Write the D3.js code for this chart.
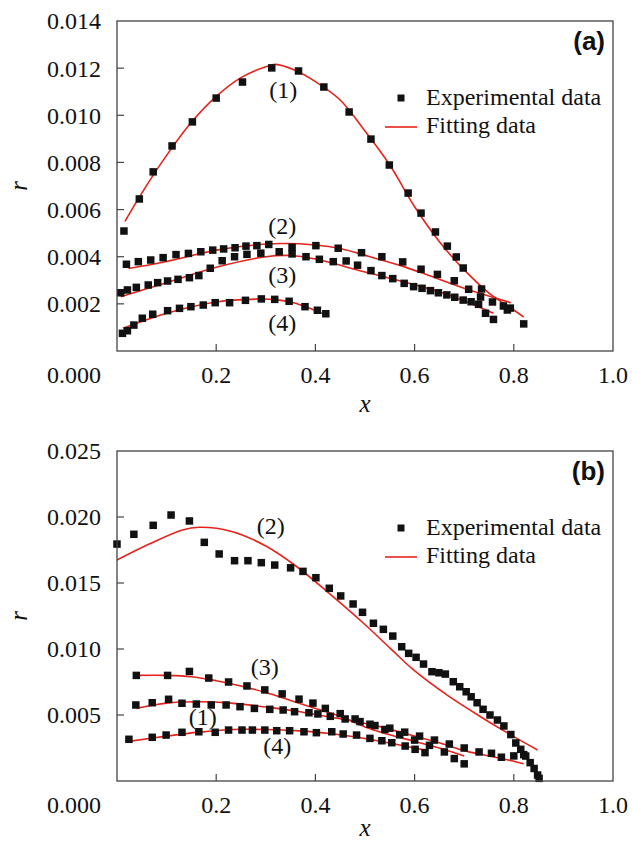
<!DOCTYPE html>
<html>
<head>
<meta charset="utf-8">
<script src="https://cdn.jsdelivr.net/npm/d3@7"></script>
<style>
  body { margin: 0; background: #fff; }
  svg { display: block; }
  .tick-label, .curve-label, .legend-text { font-family: "Liberation Serif", "Times New Roman", serif; font-size: 24px; fill: #111; }
  .axis-title { font-family: "Liberation Serif", "Times New Roman", serif; font-size: 25px; font-style: italic; fill: #111; }
  .panel-tag { font-family: "Liberation Sans", Arial, sans-serif; font-size: 26px; font-weight: bold; fill: #111; }
</style>
</head>
<body>
<div id="chart"></div>
<script>
// ticks
const xTicks = [0.2, 0.4, 0.6, 0.8, 1.0];
const yTicksA = [0.002, 0.004, 0.006, 0.008, 0.010, 0.012, 0.014];
const yTicksB = [0.005, 0.010, 0.015, 0.020, 0.025];
const legendLabels = ["Experimental data", "Fitting data"];

// panel (a) experimental points [x, r]
const expA1 = [[0.014,0.00509],[0.045,0.00645],[0.073,0.0076],[0.111,0.0087],[0.152,0.00972],[0.2,0.01073],[0.253,0.01141],[0.312,0.01201],[0.366,0.01188],[0.417,0.0112],[0.468,0.01014],[0.512,0.00899],[0.549,0.00789],[0.587,0.0067],[0.613,0.00585],[0.642,0.00505],[0.666,0.00445],[0.684,0.00399],[0.698,0.00352],[0.735,0.00263],[0.757,0.00208],[0.787,0.00174],[0.82,0.00115]];
const expA2 = [[0.019,0.00368],[0.043,0.00379],[0.068,0.00386],[0.093,0.00396],[0.119,0.00409],[0.144,0.00414],[0.169,0.00421],[0.193,0.00428],[0.215,0.00433],[0.238,0.00438],[0.26,0.00445],[0.282,0.00447],[0.306,0.00452],[0.353,0.0044],[0.401,0.00447],[0.446,0.00436],[0.493,0.00417],[0.534,0.004],[0.576,0.00378],[0.613,0.00347],[0.646,0.00325],[0.68,0.00298],[0.709,0.00262],[0.733,0.00229],[0.779,0.00191],[0.793,0.00182]];
const expA3 = [[0.0075,0.00247],[0.021,0.00259],[0.039,0.0027],[0.063,0.0028],[0.082,0.0029],[0.102,0.00297],[0.123,0.00304],[0.146,0.00311],[0.165,0.0032],[0.188,0.00351],[0.212,0.00383],[0.237,0.004],[0.262,0.0041],[0.29,0.00415],[0.327,0.00421],[0.353,0.00412],[0.381,0.004],[0.408,0.00389],[0.436,0.00379],[0.462,0.00382],[0.485,0.00364],[0.512,0.00341],[0.534,0.0032],[0.556,0.00307],[0.579,0.00287],[0.598,0.00273],[0.615,0.00266],[0.632,0.00256],[0.648,0.00247],[0.665,0.00238],[0.681,0.00228],[0.698,0.00216],[0.714,0.00209],[0.729,0.00198],[0.743,0.0016],[0.759,0.00134]];
const expA4 = [[0.011,0.00075],[0.021,0.00086],[0.034,0.0011],[0.051,0.00139],[0.072,0.00156],[0.102,0.00171],[0.126,0.00181],[0.149,0.00188],[0.174,0.00195],[0.198,0.00205],[0.227,0.00205],[0.259,0.00215],[0.291,0.00221],[0.318,0.00219],[0.347,0.00211],[0.379,0.00188],[0.404,0.00173],[0.421,0.00158]];

// panel (a) fitted curves
const fitA1 = [[0.016,0.0055],[0.05,0.0067],[0.1,0.0083],[0.15,0.0097],[0.2,0.0108],[0.25,0.0116],[0.3,0.01206],[0.32,0.01216],[0.36,0.0119],[0.4,0.01143],[0.45,0.01065],[0.5,0.00933],[0.55,0.00789],[0.6,0.00612],[0.65,0.00464],[0.7,0.00344],[0.75,0.00246],[0.8,0.00174],[0.82,0.00144]];
const fitA2 = [[0.023,0.0035],[0.1,0.0038],[0.2,0.00428],[0.28,0.0045],[0.33,0.00456],[0.4,0.0045],[0.45,0.00435],[0.51,0.004],[0.578,0.00358],[0.632,0.00318],[0.706,0.00262],[0.794,0.00205]];
const fitA3 = [[0.0075,0.0023],[0.1,0.0029],[0.2,0.00355],[0.3,0.004],[0.35,0.00405],[0.4,0.0039],[0.5,0.00335],[0.564,0.00301],[0.632,0.00262],[0.672,0.00235],[0.759,0.0016]];
const fitA4 = [[0.012,0.00096],[0.1,0.0016],[0.2,0.00208],[0.28,0.0022],[0.32,0.00218],[0.36,0.00203],[0.419,0.00155]];

// panel (b) experimental points
const expB1 = [[0.038,0.00576],[0.071,0.00593],[0.104,0.00619],[0.131,0.00589],[0.16,0.00583],[0.19,0.00576],[0.22,0.00576],[0.248,0.00563],[0.277,0.0055],[0.308,0.00543],[0.335,0.00538],[0.358,0.00525],[0.387,0.00517],[0.405,0.00508],[0.43,0.0049],[0.46,0.0047],[0.49,0.0045],[0.52,0.0042],[0.55,0.004],[0.58,0.0037],[0.61,0.0034],[0.64,0.0031],[0.67,0.0028],[0.7,0.0025],[0.73,0.0022],[0.755,0.0021],[0.775,0.0018],[0.8,0.0019],[0.82,0.002]];
const expB2 = [[0.0,0.01795],[0.034,0.01869],[0.073,0.01937],[0.109,0.02015],[0.146,0.0197],[0.176,0.01808],[0.206,0.0172],[0.237,0.01669],[0.264,0.01669],[0.291,0.01654],[0.318,0.01636],[0.35,0.01615],[0.375,0.01588],[0.401,0.0154],[0.428,0.0146],[0.451,0.01402],[0.476,0.01341],[0.495,0.01278],[0.517,0.01195],[0.537,0.01149],[0.556,0.01098],[0.574,0.01017],[0.588,0.00967],[0.603,0.00937],[0.618,0.00886],[0.635,0.00828],[0.649,0.0082],[0.662,0.0081],[0.678,0.00752],[0.691,0.00714],[0.704,0.00676],[0.714,0.00638],[0.726,0.00593],[0.738,0.00543],[0.752,0.005],[0.767,0.00462],[0.78,0.00417],[0.794,0.00352],[0.804,0.00288],[0.814,0.0024],[0.824,0.00189],[0.833,0.00139],[0.841,0.00095],[0.848,0.00045],[0.851,0.0002]];
const expB3 = [[0.039,0.008],[0.102,0.008],[0.146,0.0083],[0.185,0.0078],[0.225,0.0075],[0.262,0.0072],[0.298,0.0069],[0.333,0.0066],[0.367,0.0062],[0.395,0.0059],[0.42,0.0055],[0.45,0.0051],[0.48,0.0047],[0.51,0.0043],[0.54,0.0039],[0.57,0.0035],[0.6,0.0031],[0.63,0.0027],[0.66,0.0022],[0.68,0.0017],[0.7,0.0013]];
const expB4 = [[0.024,0.00316],[0.071,0.00331],[0.099,0.00348],[0.131,0.00369],[0.165,0.00373],[0.198,0.00369],[0.225,0.00386],[0.252,0.00386],[0.273,0.00386],[0.298,0.00386],[0.322,0.00381],[0.348,0.00381],[0.377,0.00373],[0.402,0.00366],[0.433,0.00373],[0.456,0.00356],[0.483,0.00348],[0.51,0.00323],[0.534,0.00305],[0.554,0.0029],[0.581,0.00265],[0.601,0.0024],[0.621,0.00215]];

// panel (b) fitted curves
const fitB1 = [[0.039,0.0055],[0.1,0.0059],[0.166,0.006],[0.23,0.0059],[0.3,0.0056],[0.36,0.0053],[0.42,0.0049],[0.48,0.0045],[0.532,0.0041],[0.6,0.0034],[0.65,0.0029],[0.7,0.0023],[0.75,0.0019],[0.8,0.0015],[0.82,0.0013]];
const fitB2 = [[0.0,0.01674],[0.065,0.01795],[0.132,0.01902],[0.166,0.01922],[0.233,0.01889],[0.3,0.0178],[0.362,0.01625],[0.429,0.01417],[0.497,0.01195],[0.551,0.01005],[0.598,0.00841],[0.665,0.00652],[0.733,0.00487],[0.8,0.00336],[0.848,0.00235]];
const fitB3 = [[0.039,0.008],[0.1,0.008],[0.15,0.0079],[0.2,0.0076],[0.25,0.0072],[0.3,0.0067],[0.35,0.0061],[0.4,0.0055],[0.45,0.0049],[0.5,0.0041],[0.532,0.0037],[0.6,0.003],[0.65,0.0025],[0.7,0.0019]];
const fitB4 = [[0.024,0.003],[0.1,0.0034],[0.166,0.0037],[0.233,0.0039],[0.3,0.0039],[0.368,0.0038],[0.43,0.0036],[0.503,0.0032],[0.56,0.0028],[0.625,0.0023]];

const RED = "#e5231b";
const INK = "#111";

const svg = d3.select("#chart").append("svg")
  .attr("width", 632)
  .attr("height", 843);

svg.append("rect").attr("width", 632).attr("height", 843).attr("fill", "#fff");

function drawPanel(cfg) {
  const left = 117, right = 613, top = cfg.top, bottom = cfg.top + 330;
  const x = d3.scaleLinear().domain([0, 1]).range([left, right]);
  const y = d3.scaleLinear().domain([0, cfg.yMax]).range([bottom, top]);
  const g = svg.append("g");

  // fitted lines first, points on top
  const line = d3.line()
    .x(d => x(d[0]))
    .y(d => y(d[1]))
    .curve(d3.curveCatmullRom.alpha(0.5));

  cfg.fits.forEach(f => {
    g.append("path")
      .attr("d", line(f))
      .attr("fill", "none")
      .attr("stroke", RED)
      .attr("stroke-width", 1.6);
  });

  const s = 7.5;
  cfg.points.forEach(p => {
    g.append("g").selectAll("rect")
      .data(p)
      .join("rect")
      .attr("x", d => x(d[0]) - s / 2)
      .attr("y", d => y(d[1]) - s / 2)
      .attr("width", s)
      .attr("height", s)
      .attr("fill", INK);
  });

  // frame
  g.append("rect")
    .attr("x", left).attr("y", top)
    .attr("width", right - left).attr("height", bottom - top)
    .attr("fill", "none")
    .attr("stroke", "#444")
    .attr("stroke-width", 1.3);

  // inward ticks
  xTicks.filter(t => t < 1).forEach(t => {
    g.append("line")
      .attr("x1", x(t)).attr("x2", x(t))
      .attr("y1", bottom).attr("y2", bottom - 7)
      .attr("stroke", "#444").attr("stroke-width", 1.2);
  });
  cfg.yTicks.filter(t => t < cfg.yMax - 1e-9).forEach(t => {
    g.append("line")
      .attr("x1", left).attr("x2", left + 7)
      .attr("y1", y(t)).attr("y2", y(t))
      .attr("stroke", "#444").attr("stroke-width", 1.2);
  });

  // tick labels
  g.selectAll(".xl")
    .data(xTicks)
    .join("text")
    .attr("class", "tick-label")
    .attr("x", d => x(d))
    .attr("y", bottom + 32)
    .attr("text-anchor", "middle")
    .text(d => d.toFixed(1));

  g.selectAll(".yl")
    .data(cfg.yTicks)
    .join("text")
    .attr("class", "tick-label")
    .attr("x", 101)
    .attr("y", d => y(d))
    .attr("dy", "0.35em")
    .attr("text-anchor", "end")
    .text(d => d.toFixed(3));

  // origin label sits on the x tick row
  g.append("text")
    .attr("class", "tick-label")
    .attr("x", 101)
    .attr("y", bottom + 32)
    .attr("text-anchor", "end")
    .text((0).toFixed(3));

  // axis titles
  g.append("text")
    .attr("class", "axis-title")
    .attr("x", (left + right) / 2)
    .attr("y", bottom + cfg.xTitleGap)
    .attr("text-anchor", "middle")
    .text("x");

  g.append("text")
    .attr("class", "axis-title")
    .attr("transform", `translate(27,${(top + bottom) / 2}) rotate(-90)`)
    .attr("text-anchor", "middle")
    .text("r");

  // panel tag
  g.append("text")
    .attr("class", "panel-tag")
    .attr("x", 605)
    .attr("y", top + 29)
    .attr("text-anchor", "end")
    .text(cfg.tag);

  // legend
  g.append("rect")
    .attr("x", 401 - 3.5).attr("y", top + 77 - 3.5)
    .attr("width", 7).attr("height", 7)
    .attr("fill", INK);
  g.append("text")
    .attr("class", "legend-text")
    .attr("x", 426).attr("y", top + 84)
    .text(legendLabels[0]);
  g.append("line")
    .attr("x1", 385).attr("x2", 417)
    .attr("y1", top + 106).attr("y2", top + 106)
    .attr("stroke", RED).attr("stroke-width", 1.6);
  g.append("text")
    .attr("class", "legend-text")
    .attr("x", 426).attr("y", top + 112)
    .text(legendLabels[1]);

  // curve numbers
  cfg.curveLabels.forEach(c => {
    g.append("text")
      .attr("class", "curve-label")
      .attr("x", x(c.at[0]))
      .attr("y", y(c.at[1]) + 6)
      .attr("text-anchor", "middle")
      .text(c.text);
  });
}

drawPanel({
  top: 21,
  yMax: 0.014,
  yTicks: yTicksA,
  tag: "(a)",
  xTitleGap: 61,
  points: [expA1, expA2, expA3, expA4],
  fits: [fitA1, fitA2, fitA3, fitA4],
  curveLabels: [
    { text: "(1)", at: [0.335, 0.01099] },
    { text: "(2)", at: [0.333, 0.00522] },
    { text: "(3)", at: [0.333, 0.00314] },
    { text: "(4)", at: [0.333, 0.0011] }
  ]
});

drawPanel({
  top: 451,
  yMax: 0.025,
  yTicks: yTicksB,
  tag: "(b)",
  xTitleGap: 55,
  points: [expB1, expB2, expB3, expB4],
  fits: [fitB1, fitB2, fitB3, fitB4],
  curveLabels: [
    { text: "(2)", at: [0.31, 0.01917] },
    { text: "(3)", at: [0.298, 0.00848] },
    { text: "(1)", at: [0.173, 0.0047] },
    { text: "(4)", at: [0.323, 0.0025] }
  ]
});
</script>
</body>
</html>
